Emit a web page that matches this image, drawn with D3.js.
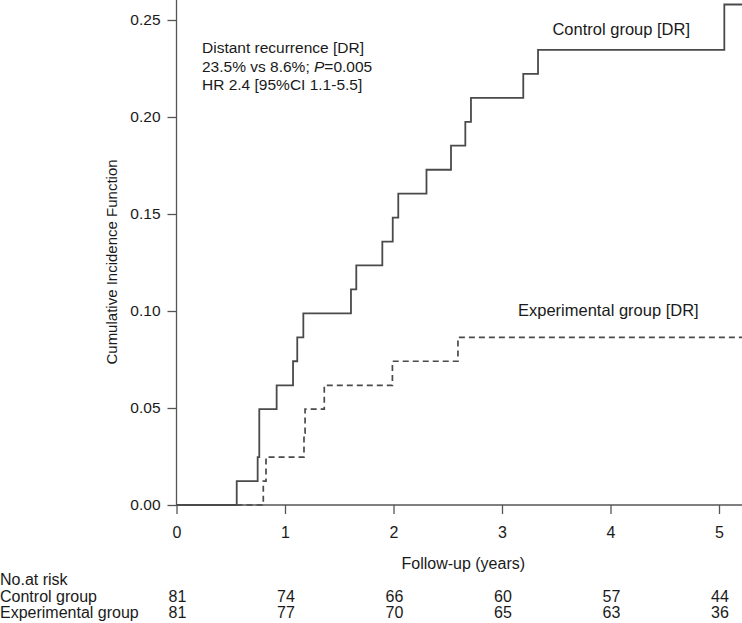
<!DOCTYPE html>
<html>
<head>
<meta charset="utf-8">
<script src="https://cdn.jsdelivr.net/npm/d3@7"></script>
<style>
  body { margin: 0; background: #fff; }
  text { font-family: "Liberation Sans", Arial, Helvetica, sans-serif; fill: #1a1a1a; }
</style>
</head>
<body>
<div id="chart-container"></div>
<script>
// Step data (years, cumulative incidence)
var controlTimes = [0, 0.555, 0.748, 0.763, 0.923, 1.074, 1.113, 1.169, 1.608, 1.657, 1.897, 1.993, 2.044, 2.304, 2.53, 2.662, 2.714, 3.196, 3.332, 5.049];
var controlCIF   = [0, 0.0123, 0.0247, 0.0494, 0.0617, 0.0741, 0.0864, 0.0988, 0.1111, 0.1235, 0.1358, 0.1481, 0.1605, 0.1728, 0.1852, 0.1975, 0.2099, 0.2222, 0.2346, 0.258];

var expTimes = [0, 0.80, 0.825, 1.175, 1.185, 1.362, 1.99, 2.594];
var expCIF   = [0, 0.0123, 0.0247, 0.037, 0.0494, 0.0617, 0.0741, 0.0864];

// Axis ticks
var xTicks = [0, 1, 2, 3, 4, 5];
var yTicks = [0, 0.05, 0.10, 0.15, 0.20, 0.25];

// Number at risk table
var riskGroups = ["Control group", "Experimental group"];
var riskControl = [81, 74, 66, 60, 57, 44];
var riskExperimental = [81, 77, 70, 65, 63, 36];

var annotation = ["Distant recurrence [DR]", "23.5% vs 8.6%; ", "HR 2.4 [95%CI 1.1-5.5]"];

var W = 742, H = 623;

var svg = d3.select("#chart-container")
            .append("svg")
            .attr("width", W)
            .attr("height", H);

// Scales
var x = d3.scaleLinear().domain([0, 5]).range([176.5, 719]);
var y = d3.scaleLinear().domain([0, 0.25]).range([505, 20]);
var xEnd = x.invert(W);

// Y axis
var yAxis = svg.append("g")
   .attr("transform", "translate(" + x(0) + ",0)")
   .call(d3.axisLeft(y).tickValues(yTicks).tickFormat(d3.format(".2f")).tickSize(9).tickPadding(7));
yAxis.select(".domain").remove();
yAxis.append("line")
   .attr("y1", 0).attr("y2", y(0))
   .attr("stroke", "#555").attr("stroke-width", 1.3);
yAxis.selectAll(".tick line").attr("stroke", "#555").attr("stroke-width", 1.3);
yAxis.selectAll(".tick text").style("font-size", "15.5px").attr("fill", "#1a1a1a");

// X axis
var xAxis = svg.append("g")
   .attr("transform", "translate(0," + y(0) + ")")
   .call(d3.axisBottom(x).tickValues(xTicks).tickFormat(d3.format("d")).tickSize(9).tickPadding(13));
xAxis.select(".domain").remove();
xAxis.append("line")
   .attr("x1", x(0)).attr("x2", W)
   .attr("stroke", "#555").attr("stroke-width", 1.3);
xAxis.selectAll(".tick line").attr("stroke", "#555").attr("stroke-width", 1.3);
xAxis.selectAll(".tick text").style("font-size", "16px").attr("fill", "#1a1a1a");

// Step curves
var line = d3.line()
             .x(function(d) { return x(d.t); })
             .y(function(d) { return y(d.v); })
             .curve(d3.curveStepAfter);

function toPoints(times, vals) {
    var pts = times.map(function(t, i) { return { t: t, v: vals[i] }; });
    pts.push({ t: xEnd, v: vals[vals.length - 1] });
    return pts;
}

svg.append("path")
   .datum(toPoints(expTimes, expCIF))
   .attr("fill", "none")
   .attr("stroke", "#4a4a4a")
   .attr("stroke-width", 1.7)
   .attr("stroke-dasharray", "6,4")
   .attr("d", line);

svg.append("path")
   .datum(toPoints(controlTimes, controlCIF))
   .attr("fill", "none")
   .attr("stroke", "#4a4a4a")
   .attr("stroke-width", 1.8)
   .attr("d", line);

// Annotation block
var ann = svg.append("text")
   .attr("x", 202)
   .attr("y", 53)
   .style("font-size", "15.5px");
ann.append("tspan").attr("x", 202).text(annotation[0]);
ann.append("tspan").attr("x", 202).attr("dy", 18.5).text(annotation[1]);
ann.append("tspan").style("font-style", "italic").text("P");
ann.append("tspan").text("=0.005");
ann.append("tspan").attr("x", 202).attr("dy", 18.5).text(annotation[2]);

// Curve labels
svg.append("text")
   .attr("x", 690).attr("y", 35)
   .style("text-anchor", "end")
   .style("font-size", "16.5px")
   .text("Control group [DR]");

svg.append("text")
   .attr("x", 518).attr("y", 316)
   .style("font-size", "16.5px")
   .text("Experimental group [DR]");

// Axis titles
svg.append("text")
   .attr("transform", "rotate(-90)")
   .attr("x", -262)
   .attr("y", 117)
   .style("text-anchor", "middle")
   .style("font-size", "15px")
   .text("Cumulative Incidence Function");

svg.append("text")
   .attr("x", (x(0) + W) / 2 + 4)
   .attr("y", 569)
   .style("text-anchor", "middle")
   .style("font-size", "16px")
   .text("Follow-up (years)");

// Number at risk
svg.append("text")
   .attr("x", 0).attr("y", 585)
   .style("font-size", "16px")
   .text("No.at risk");

var riskRows = [riskControl, riskExperimental];
riskRows.forEach(function(row, r) {
    var yy = 602 + r * 16;
    svg.append("text")
       .attr("x", 0).attr("y", yy)
       .style("font-size", "16px")
       .text(riskGroups[r]);
    svg.selectAll(null)
       .data(row)
       .enter()
       .append("text")
       .attr("x", function(d, i) { return x(xTicks[i]) + 1; })
       .attr("y", yy)
       .style("text-anchor", "middle")
       .style("font-size", "16px")
       .text(function(d) { return d; });
});
</script>
</body>
</html>
